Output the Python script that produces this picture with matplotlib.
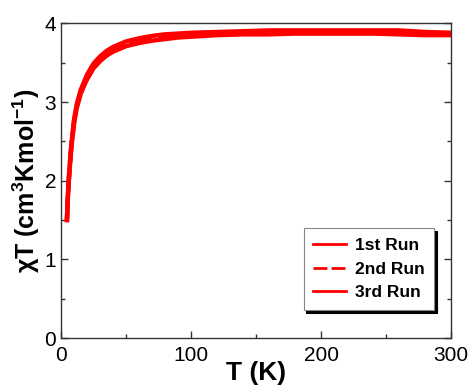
import matplotlib
matplotlib.use("Agg")
from matplotlib import pyplot as plt
from matplotlib.ticker import MultipleLocator

# temperature (K) and chi*T (cm3 K mol-1)
temp = [4.5, 5, 6, 7, 8, 10, 12, 15, 18, 20, 25, 30, 35, 40, 50, 60, 70, 80,
        90, 100, 120, 140, 160, 180, 200, 220, 240, 260, 280, 300]
run1 = [1.50, 1.75, 2.05, 2.28, 2.48, 2.78, 2.97, 3.15, 3.27, 3.35, 3.49, 3.58,
        3.65, 3.70, 3.77, 3.81, 3.84, 3.86, 3.87, 3.88, 3.89, 3.90, 3.91, 3.91,
        3.91, 3.91, 3.91, 3.91, 3.89, 3.88]
run2 = [1.50, 1.74, 2.03, 2.26, 2.46, 2.76, 2.95, 3.13, 3.25, 3.32, 3.46, 3.55,
        3.62, 3.67, 3.74, 3.78, 3.81, 3.83, 3.85, 3.86, 3.87, 3.88, 3.89, 3.89,
        3.89, 3.89, 3.89, 3.89, 3.87, 3.87]
run3 = [1.50, 1.73, 2.01, 2.24, 2.44, 2.73, 2.92, 3.10, 3.22, 3.29, 3.43, 3.52,
        3.59, 3.64, 3.71, 3.75, 3.78, 3.80, 3.82, 3.83, 3.85, 3.86, 3.86, 3.87,
        3.87, 3.87, 3.87, 3.86, 3.85, 3.85]
labels = ["1st Run", "2nd Run", "3rd Run"]

plt.rcParams['font.family'] = ['Liberation Sans', 'DejaVu Sans']
plt.rcParams['mathtext.fontset'] = 'custom'
plt.rcParams['mathtext.rm'] = 'Liberation Sans:bold'
plt.rcParams['mathtext.it'] = 'Liberation Sans:bold'

fig = plt.figure(figsize=(4.7, 3.89), dpi=100)
ax = fig.add_axes([0.130, 0.131, 0.830, 0.809])

red = '#ff0000'
ax.plot(temp, run1, color=red, lw=3.2, label=labels[0])
ax.plot(temp, run2, color=red, lw=3.2, ls=(0, (5, 1.5)), label=labels[1])
ax.plot(temp, run3, color=red, lw=3.2, label=labels[2])

ax.set_xlim(0, 300)
ax.set_ylim(0, 4)
ax.xaxis.set_major_locator(MultipleLocator(100))
ax.xaxis.set_minor_locator(MultipleLocator(50))
ax.yaxis.set_major_locator(MultipleLocator(1))
ax.yaxis.set_minor_locator(MultipleLocator(0.5))
ax.tick_params(which='both', direction='in', right=True, top=False,
               colors='#333333', labelcolor='black', labelsize=15, width=1)
ax.tick_params(which='major', length=5)
ax.tick_params(which='minor', length=3)
ax.tick_params(axis='x', pad=6)
for s in ax.spines.values():
    s.set_color('#333333')
    s.set_linewidth(1.0)

ax.set_xlabel('T (K)', fontsize=19, fontweight='bold', labelpad=-3)
ax.set_ylabel(r'χT (cm$^{3}$Kmol$^{-1}$)', fontsize=18, fontweight='bold',
              labelpad=2)

leg = ax.legend(loc='lower right', bbox_to_anchor=(0.956, 0.089),
                borderaxespad=0, fancybox=False,
                shadow={'color': 'black', 'alpha': 1},
                prop={'weight': 'bold', 'size': 12.5}, handlelength=1.9,
                handletextpad=0.5, labelspacing=0.5, borderpad=0.55,
                framealpha=1)
leg.get_frame().set_edgecolor('#888888')
leg.get_frame().set_linewidth(0.8)
for h in leg.get_lines():
    h.set_linewidth(2)

fig.savefig('out.png', dpi=100)
